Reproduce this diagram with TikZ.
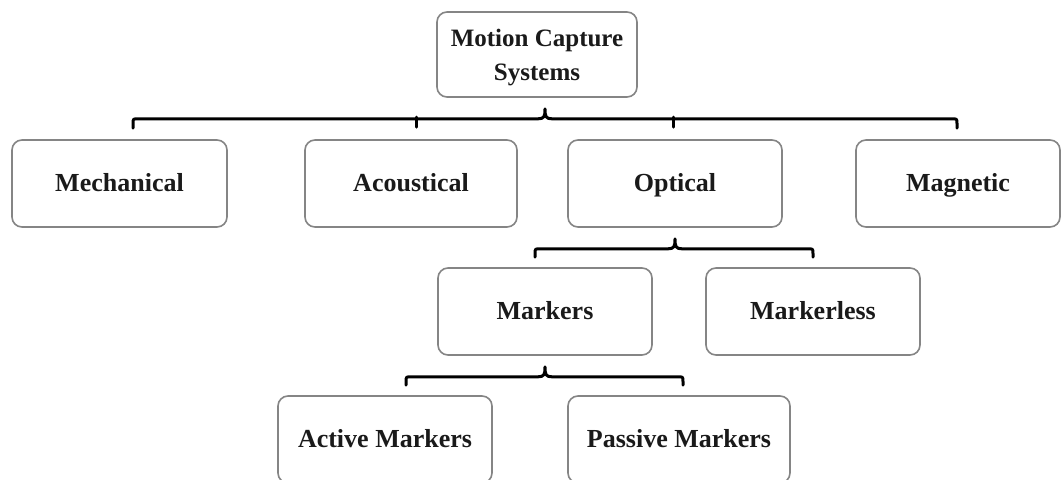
\documentclass[tikz,border=0pt]{standalone}
\usepackage{fontspec}
\setmainfont{Liberation Serif}
\usetikzlibrary{calc}
\definecolor{boxgray}{HTML}{858585}
\definecolor{inkdark}{HTML}{1A1A1A}

% curly bracket: #1 left hook end, #2 tip, #3 right hook end
\newcommand{\curlybrace}[3]{%
  \draw[brace] let \p1=(#1), \p2=(#2), \p3=(#3) in
    (\x1,\y1) -- (\x1,\y2-15pt) .. controls (\x1,\y2-10pt) .. (\x1+5pt,\y2-10pt)
    -- (\x2-7pt,\y2-10pt) .. controls (\x2-1pt,\y2-10pt) and (\x2,\y2-8pt) .. (\x2,\y2)
    .. controls (\x2,\y2-8pt) and (\x2+1pt,\y2-10pt) .. (\x2+7pt,\y2-10pt)
    -- (\x3-5pt,\y2-10pt) .. controls (\x3,\y2-10pt) .. (\x3,\y2-15pt) -- (\x3,\y3);}

\begin{document}
\begin{tikzpicture}[x=1pt, y=-1pt,
  box/.style={draw=boxgray, line width=1.6pt, rounded corners=10pt, fill=white,
    minimum width=214pt, minimum height=87pt, align=center, text=inkdark,
    font=\fontsize{26}{33}\selectfont\bfseries, inner sep=0pt},
  oneline/.style={box, text height=22pt, text depth=6pt},
  brace/.style={draw=black, line width=3pt, line cap=round, line join=round}]
\useasboundingbox (0,0) rectangle (1062,479);
\clip (0,0) rectangle (1062,479);

% root
\node[box, minimum width=200pt, minimum height=85pt] (top) at (537,54.5) {};
\node[align=center, text=inkdark, inner sep=0pt,
  font=\fontsize{25}{34}\selectfont\bfseries] (toptext) at ([yshift=-3pt]top.center)
  {Motion Capture\\Systems};

% first level
\node[oneline, minimum width=215pt] (mech) at (119.5,183.5) {Mechanical};
\node[oneline, minimum width=212pt] (acou) at (411,183.5) {Acoustical};
\node[oneline] (opt) at (675,183.5) {Optical};
\node[oneline, minimum width=204pt] (mag) at (958,183.5) {Magnetic};

% optical branch
\node[oneline] (mark) at (545,311.5) {Markers};
\node[oneline] (mless) at (813,311.5) {Markerless};

% marker types
\node[oneline] (act) at (385,439.5) {Active Markers};
\node[oneline, minimum width=222pt] (pas) at (679,439.5) {Passive Markers};

% bracket anchors
\coordinate (t0) at ([xshift=8pt,yshift=-11pt]top.south);
\coordinate (e0l) at ([xshift=13.5pt,yshift=11pt]mech.north);
\coordinate (e0r) at ([xshift=-1pt,yshift=11pt]mag.north);
\coordinate (t1) at ([yshift=-11pt]opt.south);
\coordinate (e1l) at ([xshift=-10pt,yshift=10pt]mark.north);
\coordinate (e1r) at ([yshift=10pt]mless.north);
\coordinate (t2) at ([yshift=-11pt]mark.south);
\coordinate (e2l) at ([xshift=21pt,yshift=10pt]act.north);
\coordinate (e2r) at ([xshift=4pt,yshift=10pt]pas.north);

% brackets
\curlybrace{e0l}{t0}{e0r}
\draw[brace] ([xshift=5pt,yshift=12pt]acou.north) -- ([xshift=5pt,yshift=22pt]acou.north);
\draw[brace] ([xshift=-2pt,yshift=12pt]opt.north) -- ([xshift=-2pt,yshift=22pt]opt.north);
\curlybrace{e1l}{t1}{e1r}
\curlybrace{e2l}{t2}{e2r}
\end{tikzpicture}
\end{document}
